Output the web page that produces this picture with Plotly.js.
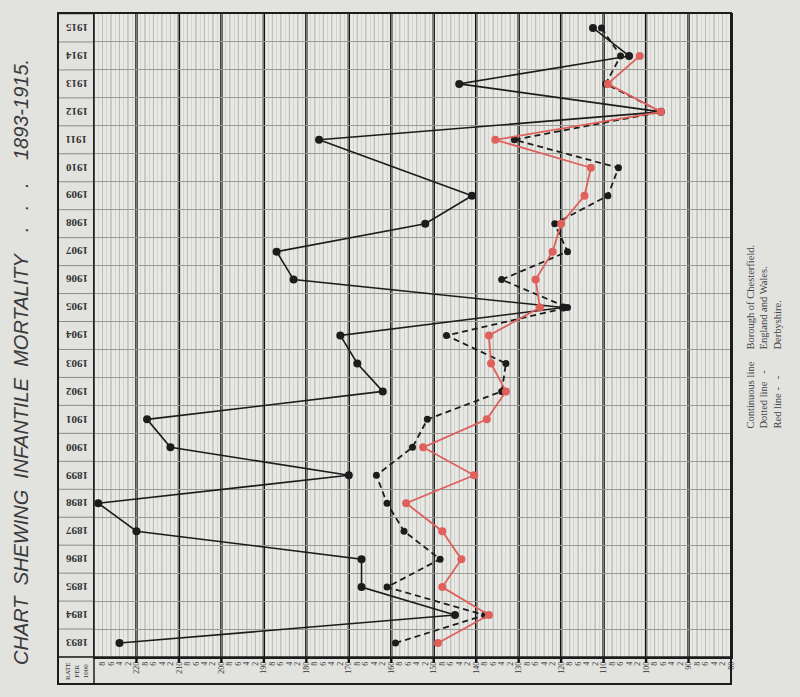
<!DOCTYPE html>
<html>
<head>
<meta charset="utf-8">
<script src="https://cdn.plot.ly/plotly-3.0.1.min.js"></script>
<style>
html,body{margin:0;padding:0;background:#e2e2df;}
#chart{width:800px;height:697px;}
</style>
</head>
<body>
<div id="chart"></div>
<script>
// ---- data ----
const years = [1893,1894,1895,1896,1897,1898,1899,1900,1901,1902,1903,1904,1905,1906,1907,1908,1909,1910,1911,1912,1913,1914,1915];
// Continuous line - Borough of Chesterfield (no marker drawn for 1910)
const chesterfield = [224,145,167,167,220,229,170,212,217.5,162,168,172,119.5,183,187,152,141,null,177,96.5,144,104,112.5];
// Dotted line - England and Wales
const englandWales = [159,138,161,148.5,157,161,163.5,155,151.5,134,133,147,118.5,134,118.5,121.5,109,106.5,131,96.5,109.5,106,110.5];
// Red line - Derbyshire (no 1915 value)
const derbyshire = [149,137,148,143.5,148,156.5,140.5,152.5,137.5,133,136.5,137,125,126,122,120,114.5,113,135.5,96.5,109,101.5,null];

const rateTicks = [];
for (let v = 80; v <= 228; v += 2) rateTicks.push(v);
const rateTickText = rateTicks.map(v => (v % 10 === 0 ? String(v) : String(v % 10)));
const tens = [90,100,110,120,130,140,150,160,170,180,190,200,210,220];

const titleText = "CHART  SHEWING  INFANTILE  MORTALITY    .   .   .    1893-1915.";
const legendKeys = "Continuous line<br>Dotted line   -<br>Red line -   -";
const legendNames = "Borough of Chesterfield.<br>England and Wales.<br>Derbyshire.";

// ---- layout geometry ----
const W = 800, H = 697;
const L = 94, R = 69, T = 14, B = 40;
const pw = W - L - R, ph = H - T - B;
const px2x = p => (p - L) / pw;
const py2y = p => (H - B - p) / ph;

const ink = '#1c1c1c';
const red = '#e0605c';

const traces = [
  {x: chesterfield, y: years, type: 'scatter', mode: 'lines+markers', connectgaps: true,
   line: {color: ink, width: 1.6}, marker: {color: ink, size: 8}, name: 'Borough of Chesterfield'},
  {x: englandWales, y: years, type: 'scatter', mode: 'lines+markers',
   line: {color: ink, width: 1.8, dash: '6px,4px'}, marker: {color: ink, size: 7}, name: 'England and Wales'},
  {x: derbyshire, y: years, type: 'scatter', mode: 'lines+markers',
   line: {color: red, width: 1.8}, marker: {color: red, size: 8}, name: 'Derbyshire'}
];

const shapes = [];
// medium lines every 2 units
rateTicks.filter(v => v % 10 !== 0).forEach(v => shapes.push({type: 'line', xref: 'x', yref: 'paper',
  x0: v, x1: v, y0: 0, y1: 1, line: {color: '#9c9c99', width: 0.8}, layer: 'between'}));
// thick lines every 10
tens.forEach(v => shapes.push({type: 'line', xref: 'x', yref: 'paper', x0: v, x1: v, y0: py2y(663), y1: 1,
  line: {color: '#111111', width: 2.4}, layer: 'between'}));
// row lines across the year column
for (let k = 0; k <= years.length; k++) {
  const yv = years[0] - 0.5 + k;
  shapes.push({type: 'line', xref: 'paper', yref: 'y', x0: px2x(58), x1: 0, y0: yv, y1: yv,
    line: {color: '#8a8a8a', width: 1}});
}
// outer frame
shapes.push({type: 'rect', xref: 'paper', yref: 'paper', x0: px2x(58), x1: px2x(731), y0: py2y(684), y1: py2y(13),
  line: {color: ink, width: 2}});
// column / row separators
shapes.push({type: 'line', xref: 'paper', yref: 'paper', x0: 0, x1: 0, y0: py2y(684), y1: 1, line: {color: ink, width: 1.5}});
shapes.push({type: 'line', xref: 'paper', yref: 'paper', x0: px2x(58), x1: 1, y0: 0, y1: 0, line: {color: ink, width: 1.5}});

const annotations = [];
years.forEach(yr => annotations.push({xref: 'paper', yref: 'y', x: px2x(77), y: yr, xanchor: 'center', yanchor: 'middle',
  text: String(yr), showarrow: false, textangle: 180,
  font: {family: 'Liberation Serif', size: 11, color: '#333', weight: 'bold'}}));
annotations.push({xref: 'paper', yref: 'paper', x: px2x(77), y: py2y(671), xanchor: 'center', yanchor: 'middle',
  text: 'RATE<br>PER<br>1000', showarrow: false, textangle: -90,
  font: {family: 'Liberation Serif', size: 7, color: '#333'}});
annotations.push({xref: 'paper', yref: 'paper', x: px2x(21), y: py2y(362), xanchor: 'center', yanchor: 'middle',
  text: titleText, showarrow: false, textangle: -90,
  font: {family: 'Liberation Sans', size: 20, color: '#3a3a3a', style: 'italic'}});
annotations.push({xref: 'paper', yref: 'paper', x: px2x(763), y: py2y(431), xanchor: 'center', yanchor: 'bottom',
  text: legendKeys, align: 'left', showarrow: false, textangle: -90,
  font: {family: 'Liberation Serif', size: 10.5, color: '#444'}});
annotations.push({xref: 'paper', yref: 'paper', x: px2x(763), y: py2y(352), xanchor: 'center', yanchor: 'bottom',
  text: legendNames, align: 'left', showarrow: false, textangle: -90,
  font: {family: 'Liberation Serif', size: 10.5, color: '#444'}});

const layout = {
  width: W, height: H,
  margin: {l: L, r: R, t: T, b: B, pad: 0},
  paper_bgcolor: '#e2e2df', plot_bgcolor: '#e8e8e5',
  showlegend: false,
  xaxis: {
    range: [230, 80], autorange: false,
    tickmode: 'array', tickvals: rateTicks, ticktext: rateTickText, tickangle: -90,
    tickfont: {family: 'Liberation Serif', size: 8, color: '#333'},
    showgrid: false, zeroline: false, ticks: '',
    minor: {dtick: 1, tick0: 80, showgrid: true, gridcolor: '#c4c4c1', gridwidth: 0.6, ticks: ''},
    showline: true, linecolor: ink, linewidth: 1.5, mirror: true
  },
  yaxis: {
    range: [1892.5, 1915.5], autorange: false,
    tick0: 1892.5, dtick: 1, showticklabels: false, ticks: '',
    showgrid: true, gridcolor: '#999996', gridwidth: 1, zeroline: false,
    showline: true, linecolor: ink, linewidth: 1.5, mirror: true
  },
  shapes: shapes,
  annotations: annotations
};

Plotly.newPlot('chart', traces, layout, {displayModeBar: false, staticPlot: true});
</script>
</body>
</html>
